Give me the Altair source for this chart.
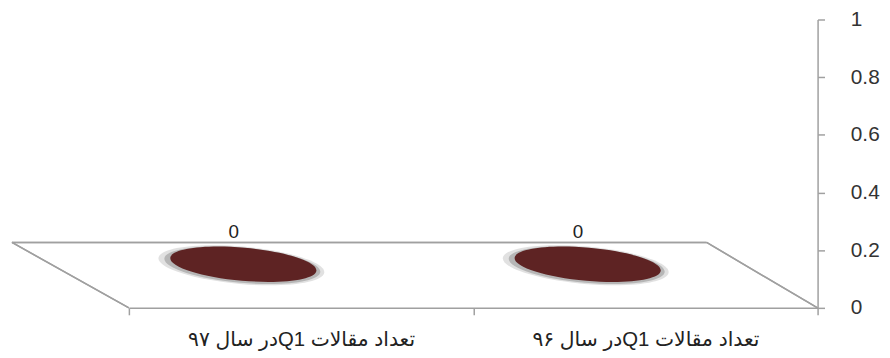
import altair as alt
import pandas as pd

# ---- data ----
categories = ["تعداد مقالات  Q1در سال ۹۷", "تعداد مقالات  Q1در سال ۹۶"]
values = [0, 0]
y_ticks = [0, 0.2, 0.4, 0.6, 0.8, 1]

df = pd.DataFrame({"cat": categories, "val": values})

RLE, PDF = "\u202b", "\u202c"
GRAY = "#A0A0A0"
FONT = "Liberation Sans, DejaVu Sans"
W, H = 817, 291

# ellipse symbol (unit box -1..1)
ELLIPSE = ("M -1,0 C -1,-0.124 -0.552,-0.225 0,-0.225 "
           "C 0.552,-0.225 1,-0.124 1,0 "
           "C 1,0.124 0.552,0.225 0,0.225 "
           "C -0.552,0.225 -1,0.124 -1,0 Z")

x = alt.X(
    "cat:N", sort=categories,
    scale=alt.Scale(type="band", range=[122, 817], paddingInner=0, paddingOuter=0),
    axis=alt.Axis(title=None, labelAngle=0, tickBand="extent", labelLimit=400,
                  domainColor=GRAY, domainWidth=1.5, tickColor=GRAY, tickWidth=1.5,
                  tickSize=7, labelPadding=15, labelFontSize=20.5, labelFont=FONT,
                  labelColor="#222",
                  labelExpr=f"'{RLE}' + datum.label + '{PDF}'"),
)
y = alt.Y(
    "val:Q", scale=alt.Scale(domain=[0, 1], nice=False),
    axis=alt.Axis(orient="right", values=y_ticks, format="~g", title=None, grid=False,
                  domainColor=GRAY, domainWidth=1.5, tickColor=GRAY, tickWidth=1.5,
                  tickSize=7, labelPadding=26, labelFontSize=21, labelFont=FONT,
                  labelColor="#333"),
)

base = alt.Chart(df).encode(x=x, y=y)

# offset of the ellipse centre from the band start / value position (pixels)
DX, DY = 115.5, -44


def ellipse_layer(color, opacity, width, ox, oy):
    return base.mark_point(shape=ELLIPSE, filled=True, color=color, opacity=opacity,
                           size=width ** 2, angle=5, strokeWidth=0).encode(
        xOffset=alt.value(DX + ox), yOffset=alt.value(DY + oy))


halo1 = ellipse_layer("#c8c8c8", 0.55, 168, -2, 1)
halo2 = ellipse_layer("#9a9a9a", 0.6, 158, -1, 1)
ell = ellipse_layer("#5E2323", 1, 148, 0, 0)
lbl = base.mark_text(font=FONT, fontSize=19, color="#222", dx=-68, dy=-77,
                     baseline="middle").encode(text=alt.Text("val:Q", format="d"))

# floor outline (decoration)
back = alt.Chart(df).mark_rule(color=GRAY, strokeWidth=1.5).encode(
    x=alt.value(4), x2=alt.value(705), y=alt.value(225))
left_edge = alt.Chart(df).mark_rule(color=GRAY, strokeWidth=1.5).encode(
    x=alt.value(4), x2=alt.value(122), y=alt.value(225), y2=alt.value(291))
right_edge = alt.Chart(df).mark_rule(color=GRAY, strokeWidth=1.5).encode(
    x=alt.value(705), x2=alt.value(817), y=alt.value(225), y2=alt.value(291))

chart = alt.layer(back, left_edge, right_edge, halo1, halo2, ell, lbl).properties(
    width=W, height=H,
    autosize=alt.AutoSizeParams(type="none"),
    padding={"left": 0, "top": 10, "right": 65, "bottom": 49},
    background="white",
).configure_view(stroke=None)

chart.save("out.html", embed_options={"renderer": "svg", "actions": False})
